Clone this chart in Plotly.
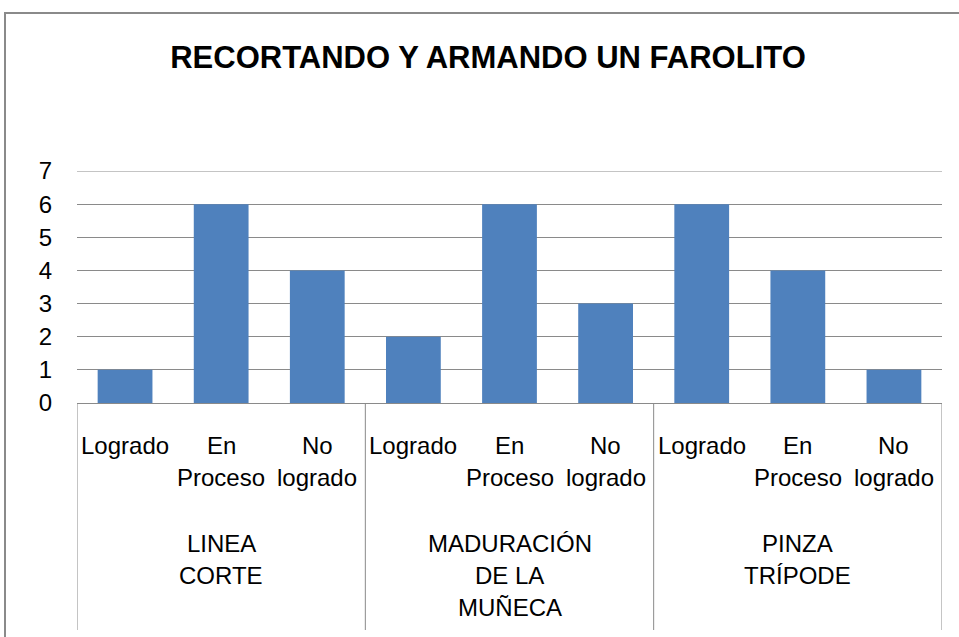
import plotly.graph_objects as go

title_text = "RECORTANDO Y ARMANDO UN FAROLITO"
groups = ["LINEA\nCORTE", "MADURACIÓN\nDE LA\nMUÑECA", "PINZA\nTRÍPODE"]
subcats = ["Logrado", "En\nProceso", "No\nlogrado"]
values_linea = [1, 6, 4]
values_maduracion = [2, 6, 3]
values_pinza = [6, 4, 1]
y_ticks = [0, 1, 2, 3, 4, 5, 6, 7]

all_values = values_linea + values_maduracion + values_pinza
n_sub = len(subcats)
xs = list(range(len(all_values)))
y_max = y_ticks[-1]

W, H = 959, 637
L, R, T, B = 77, 17, 171, 234
plot_w = W - L - R
plot_h = H - T - B

def py2paper(py):
    return (H - B - py) / plot_h

def px2paper(px):
    return (px - L) / plot_w

FONT = "Liberation Sans"
GRAY = "#8a8a8a"

fig = go.Figure()
fig.add_trace(go.Bar(
    x=xs, y=all_values, width=0.57,
    marker=dict(color="#4F81BD", line=dict(width=0)),
    hoverinfo="y",
))

annotations = []
# sub-category labels
for gi in range(len(groups)):
    for si, lab in enumerate(subcats):
        xi = gi * n_sub + si
        for li, line in enumerate(lab.split("\n")):
            annotations.append(dict(
                x=xi, xref="x", y=py2paper(445 + 32 * li), yref="paper",
                text=line, showarrow=False, xanchor="center", yanchor="middle",
                font=dict(family=FONT, size=24, color="#000000"),
            ))
# group labels
for gi, lab in enumerate(groups):
    xc = gi * n_sub + (n_sub - 1) / 2
    for li, line in enumerate(lab.split("\n")):
        annotations.append(dict(
            x=xc, xref="x", y=py2paper(543 + 32 * li), yref="paper",
            text=line, showarrow=False, xanchor="center", yanchor="middle",
            font=dict(family=FONT, size=24, color="#000000"),
        ))

shapes = []
# top gridline (at range end)
shapes.append(dict(type="line", xref="paper", yref="y", x0=0, x1=1,
                   y0=y_max, y1=y_max, line=dict(color=GRAY, width=1),
                   layer="below"))
# group dividers
for gi in range(len(groups) + 1):
    xb = gi * n_sub - 0.5
    shapes.append(dict(type="line", xref="x", yref="paper",
                       x0=xb, x1=xb, y0=0, y1=py2paper(630),
                       line=dict(color=GRAY, width=1)))
# outer chart border
shapes.append(dict(type="rect", xref="paper", yref="paper",
                   x0=px2paper(5), x1=px2paper(W + 20),
                   y0=py2paper(H + 20), y1=py2paper(13),
                   line=dict(color=GRAY, width=2), fillcolor="rgba(0,0,0,0)"))

fig.update_layout(
    width=W, height=H, autosize=False,
    margin=dict(l=L, r=R, t=T, b=B, pad=0),
    paper_bgcolor="white", plot_bgcolor="white",
    showlegend=False,
    title=dict(text=title_text, x=488 / W, xanchor="center",
               y=1 - 57 / H, yanchor="middle", yref="container",
               font=dict(family=FONT, size=31, color="#000000", weight="bold")),
    xaxis=dict(range=[-0.5, len(all_values) - 0.5], showticklabels=False,
               showgrid=False, zeroline=False, showline=True,
               linecolor=GRAY, linewidth=1, ticks="", fixedrange=True),
    yaxis=dict(range=[0, y_max], tickvals=y_ticks, showgrid=True,
               gridcolor=GRAY, gridwidth=1, zeroline=False, showline=False,
               ticks="", ticklabelstandoff=24,
               tickfont=dict(family=FONT, size=24, color="#000000"),
               fixedrange=True),
    annotations=annotations,
    shapes=shapes,
    bargap=0.43,
)

fig.write_html("out.html", config={"displayModeBar": False},
               post_script="document.body.style.margin='0';document.body.style.overflow='hidden';")
